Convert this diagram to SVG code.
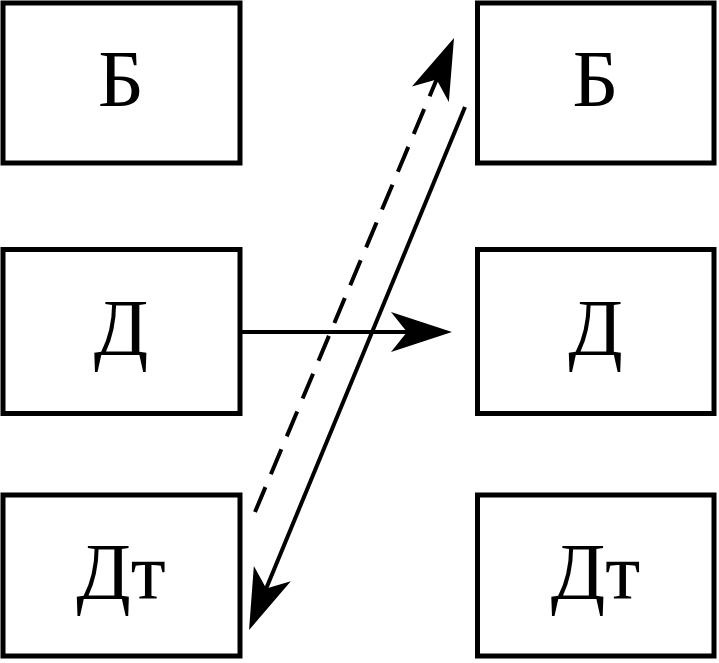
<svg xmlns="http://www.w3.org/2000/svg" width="719" height="663" viewBox="0 0 719 663">
<style>
.box{fill:#fff;stroke:#000;stroke-width:5}
.lbl{font-family:"Liberation Serif","DejaVu Serif",serif;font-size:80px;fill:#000;text-anchor:middle}
.ln{stroke:#000;stroke-width:4;fill:none}
.dash{stroke-dasharray:27 14}
</style>
<defs>
<marker id="ah" markerUnits="userSpaceOnUse" orient="auto" markerWidth="80" markerHeight="60" refX="0" refY="0" viewBox="-40 -30 80 60" overflow="visible">
<path d="M30,0 L-31,-20 L-15,0 L-31,20 Z" fill="#000"/>
</marker>
</defs>
<g id="node-b-left"><rect class="box" x="3" y="3" width="237" height="160"/><text class="lbl" x="121" y="106">Б</text></g>
<g id="node-d-left"><rect class="box" x="3" y="249.5" width="237" height="164"/><text class="lbl" x="121" y="355">Д</text></g>
<g id="node-dt-left"><rect class="box" x="3" y="495" width="237" height="161"/><text class="lbl" x="121" y="599">Дт</text></g>
<g id="node-b-right"><rect class="box" x="477.5" y="3" width="236.5" height="160"/><text class="lbl" x="595.5" y="106">Б</text></g>
<g id="node-d-right"><rect class="box" x="477.5" y="249.5" width="236.5" height="164"/><text class="lbl" x="595.5" y="355">Д</text></g>
<g id="node-dt-right"><rect class="box" x="477.5" y="495" width="236.5" height="161"/><text class="lbl" x="595.5" y="599">Дт</text></g>
<g id="connectors">
<line class="ln" x1="242" y1="332" x2="422" y2="332" marker-end="url(#ah)"/>
<line class="ln dash" x1="255" y1="512" x2="442.4" y2="65.7" marker-end="url(#ah)"/>
<line class="ln" x1="465" y1="107" x2="260.5" y2="602.3" marker-end="url(#ah)"/>
</g>
</svg>
